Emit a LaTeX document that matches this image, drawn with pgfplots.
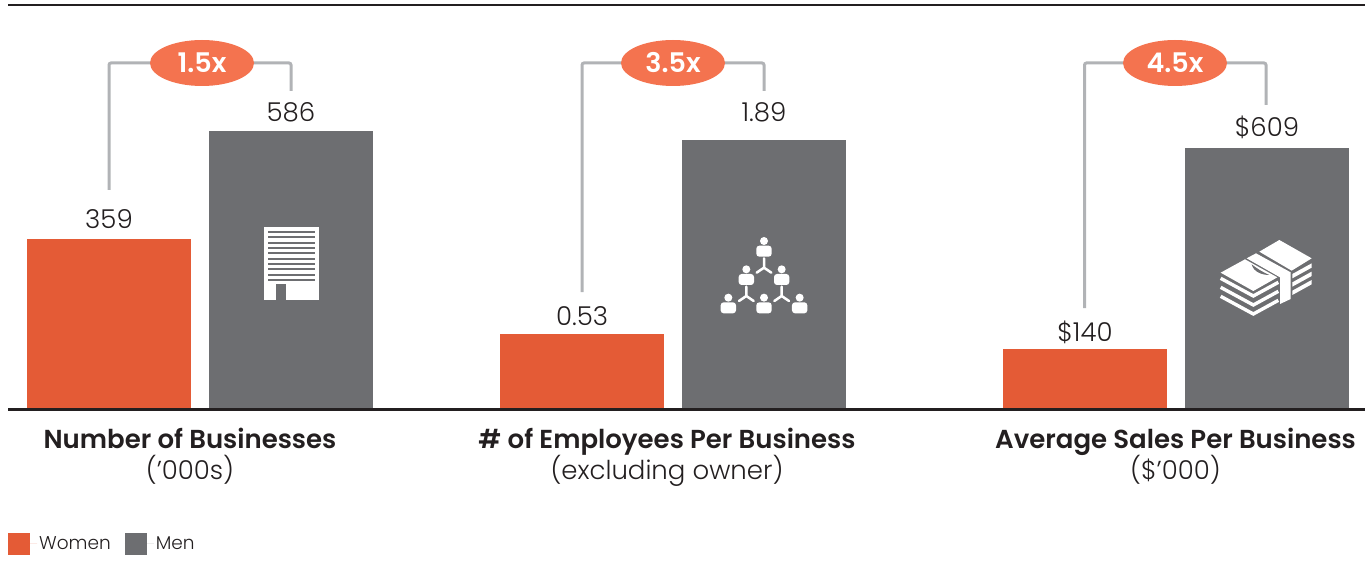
\documentclass[border=0pt]{standalone}
\usepackage{fontspec}
\setmainfont{Poppins Light}[BoldFont={Poppins SemiBold}]
\usepackage{pgfplots}
\pgfplotsset{compat=1.18}
\usetikzlibrary{shapes.geometric}
\definecolor{women}{HTML}{E45B36}
\definecolor{men}{HTML}{6D6E71}
\definecolor{oval}{HTML}{F4734F}
\definecolor{bracket}{HTML}{B1B3B6}
\definecolor{ink}{HTML}{231F20}

\pgfplotsset{
  panel/.style={
    ybar, bar width=164pt, bar shift=0pt,
    scale only axis, width=364pt, height=280pt,
    xmin=-0.5, xmax=1.5, ymin=0,
    axis line style={draw=none}, ticks=none, clip=false,
    anchor=south west,
    /pgf/number format/assume math mode=true,
    every node near coord/.append style={
      font=\fontsize{26}{26}\selectfont, text=ink},
  },
  wbar/.style={fill=women, draw=none},
  mbar/.style={fill=men, draw=none},
  lift/.style={every node near coord/.append style={yshift=#1}},
}
% bracket from the women's value over the oval to the men's value (page pixels)
\newcommand{\bracketto}[6]{%
  \draw[bracket, line width=3pt, rounded corners=2pt]
    (#1,566-#2) -- (#1,566-63) -- (#3,566-63) -- (#3,566-#4);
  \node[fill=oval, ellipse, minimum width=104pt, minimum height=46pt, inner sep=0pt,
    text=white, font=\fontsize{27}{27}\selectfont\bfseries]
    at (#5,566-63) {#6};}
\newcommand{\grouplabel}[3]{%
  \node[text=ink, align=center, font=\fontsize{26}{31}\selectfont] at (#1,566-458)
    {\strut\textbf{#2}\\[-4pt]\strut#3};}
\newcommand{\person}[2]{%
  \fill (#1,#2) circle (12);
  \fill[rounded corners=3] (#1-23,#2+14) rectangle (#1+23,#2+47);}
\newcommand{\fork}[2]{%
  \draw[line width=2.5pt, line cap=round] (#1,#2-28) -- (#1,#2) (#1-22,#2+15) -- (#1,#2) -- (#1+22,#2+15);}

\begin{document}
\begin{tikzpicture}[x=1pt,y=1pt]
\path[use as bounding box] (0,0) rectangle (1371,566);

\begin{axis}[panel, at={(18pt,157pt)}, ymax=590.2,
    legend columns=2, legend cell align=left,
    legend image code/.code={\fill[#1] (0pt,-11pt) rectangle (22pt,11pt); \path (0pt,0pt) -- (29pt,0pt);},
    legend style={at={(-0.0275,-0.482)}, anchor=west, draw=none, fill=none, inner sep=0pt,
      font=\fontsize{18.5}{19}\selectfont, text=ink,
      /tikz/every even column/.append style={column sep=12pt}}]
\addplot[wbar, lift=7pt, nodes near coords] coordinates {(0,359)};
\addplot[mbar, lift=5pt, nodes near coords] coordinates {(1,586)};
\legend{Women,Men}
\end{axis}

\begin{axis}[panel, at={(491pt,157pt)}, ymax=1.9665]
\addplot[wbar, lift=4pt, nodes near coords] coordinates {(0,0.53)};
\addplot[mbar, lift=14pt, nodes near coords] coordinates {(1,1.89)};
\end{axis}

\begin{axis}[panel, at={(994pt,157pt)}, ymax=653.3]
\addplot[wbar, lift=2pt, nodes near coords={\$\pgfmathprintnumber{\pgfplotspointmeta}}] coordinates {(0,140)};
\addplot[mbar, lift=6pt, nodes near coords={\$\pgfmathprintnumber{\pgfplotspointmeta}}] coordinates {(1,609)};
\end{axis}

% rules
\draw[ink, line width=2.5pt] (8,566-5) -- (1365,566-5);
\draw[ink, line width=3pt] (8,157) -- (1365,157);

\bracketto{109}{190}{291}{91}{202}{1.5x}
\bracketto{582}{292}{764}{91}{673}{3.5x}
\bracketto{1084.5}{308}{1266}{105}{1175}{4.5x}

\grouplabel{190}{Number of Businesses}{(’000s)}
\grouplabel{667}{\# of Employees Per Business}{(excluding owner)}
\grouplabel{1175.5}{Average Sales Per Business}{(\$’000)}

% building icon
\fill[white] (264,566-227) rectangle (319,566-300);
\foreach \k in {0,...,9}
  \fill[men] (267.5,566-231-\k*5.35) rectangle (315,566-233-\k*5.35);
\fill[men] (276,566-284) rectangle (286,566-300);

% people icon
\begin{scope}[shift={(700,566-225)}, x=0.3333pt, y=-0.3333pt, white, fill=white]
\person{192}{48}
\person{139}{133}
\person{245}{133}
\person{85}{218}
\person{192}{218}
\person{299}{218}
\fork{192}{128}
\fork{139}{213}
\fork{245}{213}
\end{scope}

% money icon
\begin{scope}[shift={(1200,566-225)}, x=0.3333pt, y=-0.3333pt]
\fill[white] (62,143) -- (135,103) -- (232,157) -- (160,198) -- cycle;
\fill[white] (140,100) -- (168,85) -- (272,142) -- (272,222) -- (240,237) -- (240,157) -- cycle;
\fill[white] (178,80) -- (238,45) -- (335,100) -- (275,137) -- cycle;
\foreach \d in {0,25,50} {
  \fill[white] (277,147+\d) -- (335,115+\d) -- (335,128+\d) -- (277,160+\d) -- cycle;
}
\foreach \d in {0,27,54}
  \draw[white, line width=3.4pt, line join=miter] (62,160+\d) -- (160,213+\d) -- (235,172+\d);
\fill[men] (155,118) .. controls (160,140) and (185,150) .. (208,150) .. controls (185,140) and (170,130) .. cycle;
\end{scope}
\end{tikzpicture}
\end{document}
